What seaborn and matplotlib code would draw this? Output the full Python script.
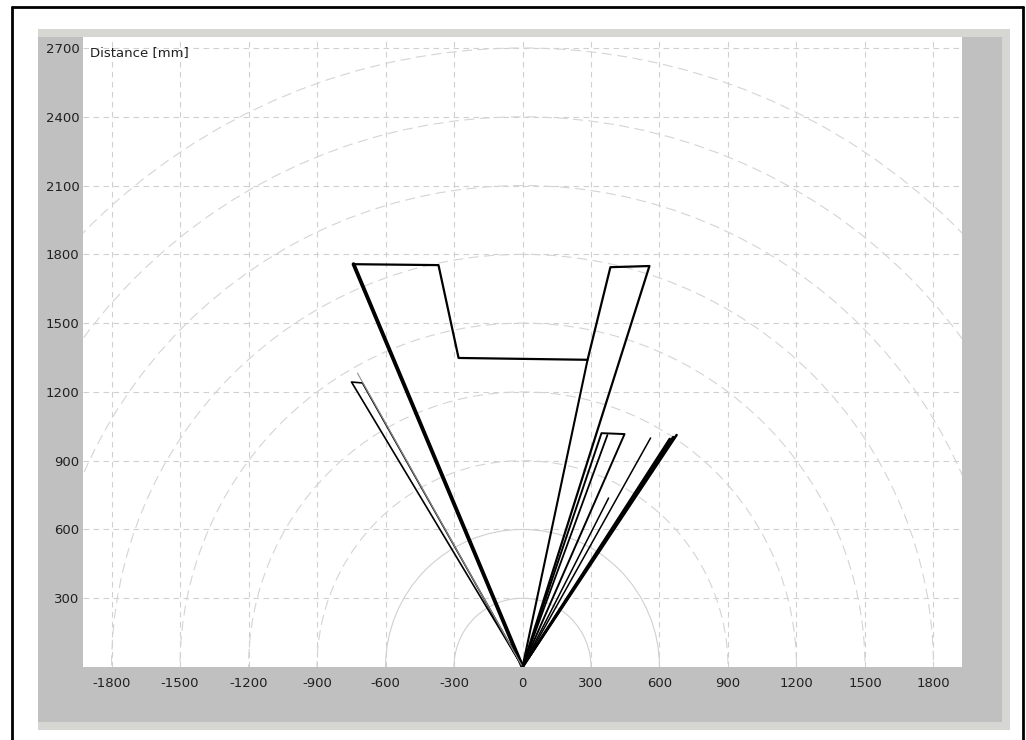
import numpy as np
import pandas as pd
import matplotlib
matplotlib.use('Agg')
import matplotlib.pyplot as plt
from matplotlib.patches import Rectangle, Circle
from matplotlib.lines import Line2D
import seaborn as sns

sns.set_style('white')
plt.rcParams['font.family'] = ['DejaVu Sans']

# axis ticks and range rings (mm)
x_ticks = [-1800, -1500, -1200, -900, -600, -300, 0, 300, 600, 900, 1200, 1500, 1800]
y_ticks = [300, 600, 900, 1200, 1500, 1800, 2100, 2400, 2700]
ring_radii = [300, 600, 900, 1200, 1500, 1800, 2100, 2400, 2700]

# scan contour (mm), scanner at (0, 0)
outline_x = [0, -740, -368, -280, 285, 385, 556, 0]
outline_y = [0, 1757, 1753, 1348, 1340, 1744, 1749, 0]
left_ray_x = [0, -740]
left_ray_y = [0, 1757]
mid_ray_x = [0, 285]
mid_ray_y = [0, 1340]

small_x = [0, -749, -701, 0]
small_y = [0, 1243, 1239, 0]
small_gray_x = [0, -723]
small_gray_y = [0, 1282]

hook_x = [0, 346, 447, 0]
hook_y = [0, 1020, 1016, 0]

# single rays to the right
ray_end_x = [372, 377, 561, 645, 660, 675]
ray_end_y = [1012, 737, 999, 995, 1003, 1012]
ray_width = [1.3, 1.1, 1.1, 1.8, 1.8, 1.8]

paths = [
    ('outline', outline_x, outline_y, 1.6, 'black'),
    ('left_ray', left_ray_x, left_ray_y, 2.8, 'black'),
    ('mid_ray', mid_ray_x, mid_ray_y, 1.5, 'black'),
    ('small', small_x, small_y, 1.2, 'black'),
    ('small_gray', small_gray_x, small_gray_y, 0.8, '#909090'),
    ('hook', hook_x, hook_y, 1.4, 'black'),
]
for i, (ex, ey, w) in enumerate(zip(ray_end_x, ray_end_y, ray_width)):
    paths.append((f'ray{i}', [0, ex], [0, ey], w, 'black'))

W, H = 1026, 740
fig = plt.figure(figsize=(W / 100, H / 100), dpi=100)
fig.patch.set_facecolor('white')

# window frame
fig.patches.append(Rectangle((38 / W, (H - 730) / H), 972 / W, 701 / H,
                             transform=fig.transFigure, facecolor='#d6d6d2',
                             edgecolor='none', zorder=-10))
fig.patches.append(Rectangle((38 / W, (H - 722) / H), 964 / W, 685 / H,
                             transform=fig.transFigure, facecolor='#c0c0c0',
                             edgecolor='none', zorder=-9))
for xs, ys in [([12, 12], [7, 745]), ([12, 1023], [7, 7]), ([1023, 1023], [7, 745])]:
    fig.lines.append(Line2D([x / W for x in xs], [1 - y / H for y in ys],
                            transform=fig.transFigure, color='black', lw=2.0,
                            zorder=-8))

ax = fig.add_axes([83 / W, (H - 667) / H, 879 / W, 630 / H])
ax.set_zorder(1)
ax.set_facecolor('white')
for s in ax.spines.values():
    s.set_visible(False)

# scan lines
for name, xs, ys, lw, col in paths:
    df = pd.DataFrame({'x': xs, 'y': ys, 'step': range(len(xs))})
    sns.lineplot(data=df, x='x', y='y', sort=False, estimator=None,
                 color=col, lw=lw, ax=ax, zorder=3)

ax.set_xlim(-1925, 1925)
ax.set_ylim(0, 2748)
ax.set_xticks(x_ticks)
ax.set_yticks(y_ticks)
ax.set_xticklabels([str(v) for v in x_ticks])
ax.set_yticklabels([str(v) for v in y_ticks])
ax.tick_params(axis='x', length=0, pad=7, labelsize=9.5, labelcolor='#202020')
ax.tick_params(axis='y', length=0, pad=2.5, labelsize=9.5, labelcolor='#202020')
ax.grid(True, color='#d0d0d0', ls=(0, (5, 4)), lw=0.8)
ax.set_axisbelow(True)

# range rings
for r in ring_radii:
    if r <= 600:
        c = Circle((0, 0), r, fill=False, ec='#d0d0d0', lw=0.8, zorder=1.5)
    else:
        c = Circle((0, 0), r, fill=False, ec='#d4d4d4', lw=0.8,
                   ls=(0, (9, 5)), zorder=1.5)
    ax.add_patch(c)

ax.set_xlabel('')
ax.set_ylabel('')
ax.text(7 / 879, (667 - 53) / 630, 'Distance [mm]', transform=ax.transAxes,
        ha='left', va='center', fontsize=9.5, color='#202020')

fig.savefig('out.png', dpi=100)
